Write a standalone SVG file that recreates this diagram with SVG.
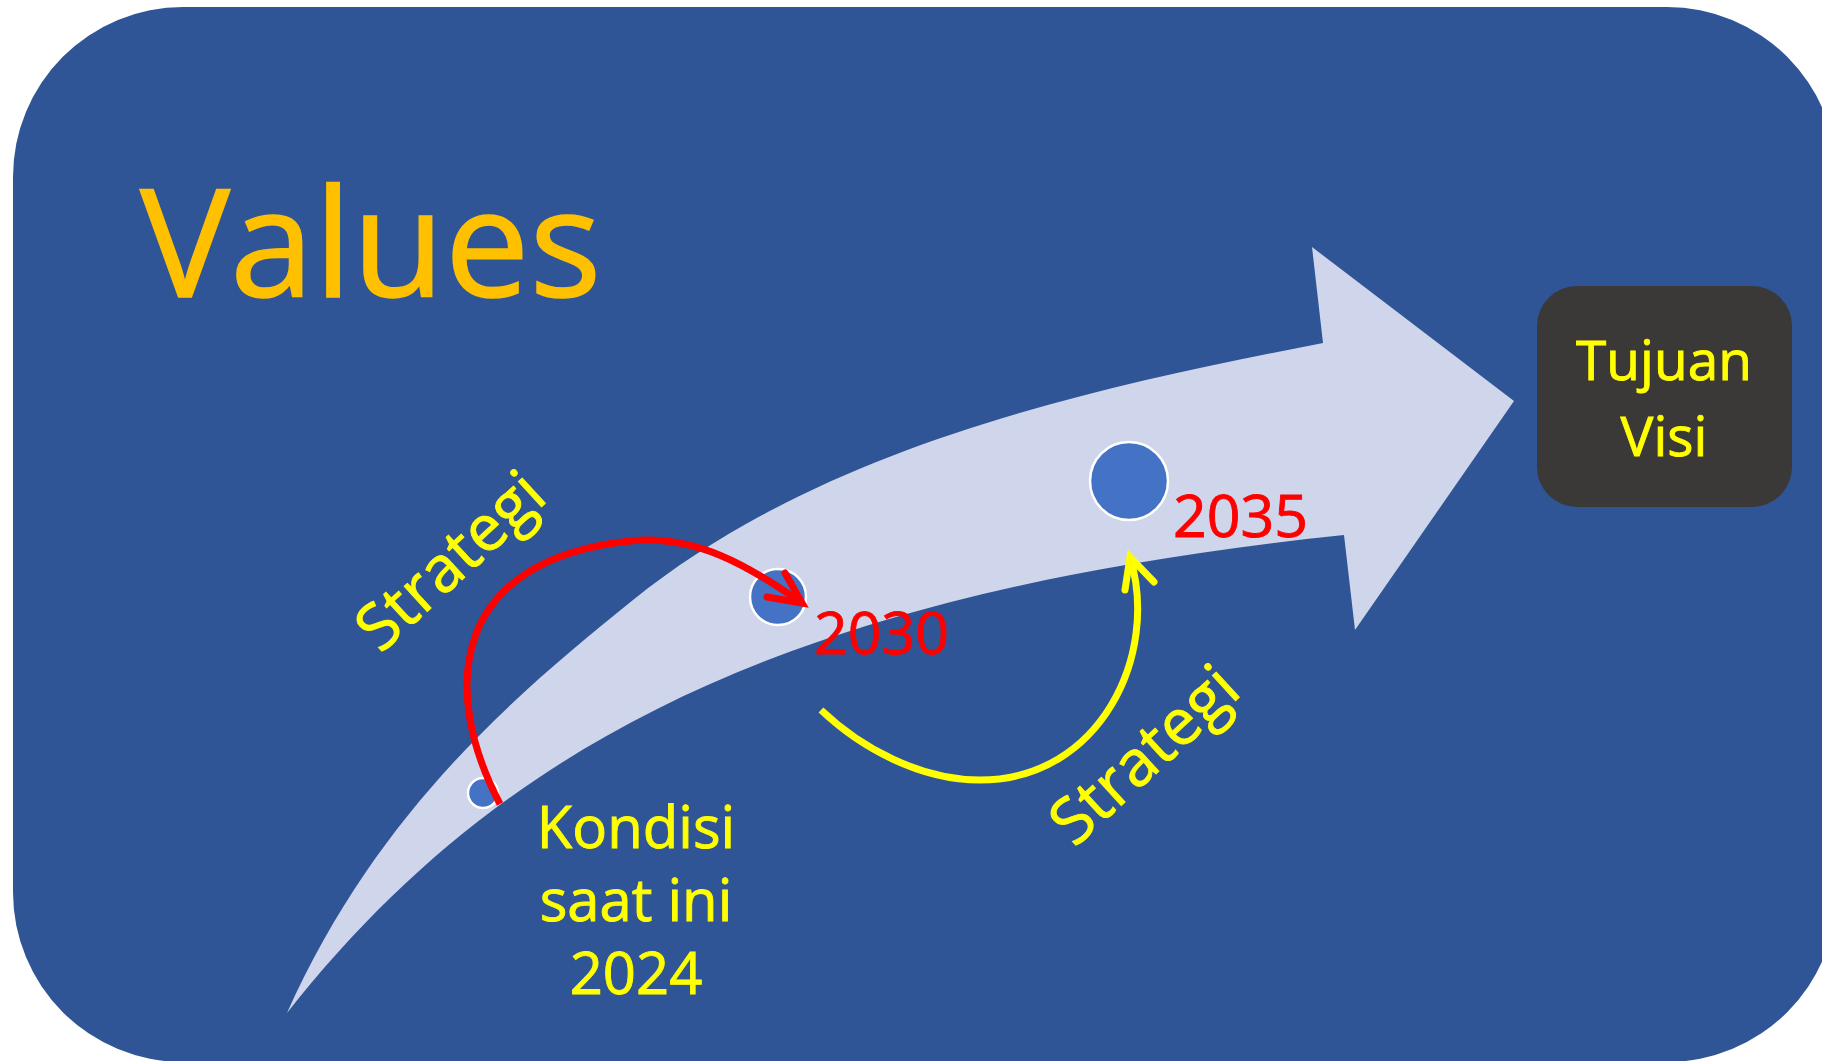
<svg xmlns="http://www.w3.org/2000/svg" width="1822" height="1061" viewBox="0 0 1822 1061">
  <style>
    .t { font-family: "Open Sans", "Noto Sans", sans-serif; }
    .yel { fill: #FFFF00; stroke: #FFFF00; stroke-width: 0.9; }
    .red { fill: #FF0000; stroke: #FF0000; stroke-width: 0.9; }
    .dot { fill: #4472C4; stroke: #FFFFFF; stroke-width: 2.5; }
    .conn { fill: none; stroke-width: 7; stroke-linecap: butt; stroke-linejoin: miter; }
    .head { fill: none; stroke-width: 7; stroke-linecap: round; stroke-linejoin: miter; }
  </style>
  <rect width="1822" height="1061" fill="#FFFFFF"/>
  <g id="background">
    <rect x="13" y="7" width="1824" height="1055" rx="170" ry="170" fill="#2F5597"/>
  </g>
  <g id="title">
    <text class="t" x="140" y="297" font-size="151" fill="#FFC000" stroke="#FFC000" stroke-width="1.5">Values</text>
  </g>
  <g id="big-arrow">
    <path d="M287,1013 C377,812 516,694 633,600 C824,447 1082,390 1323,343 L1312,247 L1514,401 L1355,630 L1344,535 C797,592 504,738 287,1013 Z" fill="#CFD5EA"/>
  </g>
  <g id="node-2024">
    <circle class="dot" cx="483" cy="793" r="15"/>
    <text class="t yel" x="636" y="848" font-size="58" text-anchor="middle">Kondisi</text>
    <text class="t yel" x="636" y="921" font-size="58" text-anchor="middle">saat ini</text>
    <text class="t yel" x="636" y="994" font-size="58" text-anchor="middle">2024</text>
  </g>
  <g id="node-2030">
    <circle class="dot" cx="778" cy="597" r="28"/>
    <text class="t red" x="814" y="654" font-size="59">2030</text>
  </g>
  <g id="node-2035">
    <circle class="dot" cx="1129" cy="481" r="39"/>
    <text class="t red" x="1173" y="537" font-size="59">2035</text>
  </g>
  <g id="node-tujuan">
    <rect x="1537" y="286" width="255" height="221" rx="40" ry="40" fill="#3B3838"/>
    <text class="t yel" x="1664" y="380" font-size="55" text-anchor="middle">Tujuan</text>
    <text class="t yel" x="1664" y="456" font-size="55" text-anchor="middle">Visi</text>
  </g>
  <g id="connectors">
    <g id="strategi-1">
      <path class="conn" stroke="#FF0000" d="M500,804 C440,690 450,560 630,541 C695,534 749,566 802,603"/>
      <path class="head" stroke="#FF0000" d="M767,597 L802,603 L785,573"/>
      <text class="t yel" font-size="64" text-anchor="middle" transform="translate(465,577) rotate(-42.5)">Strategi</text>
    </g>
    <g id="strategi-2">
      <path class="conn" stroke="#FFFF00" d="M821,710 C861,748 920,780 980,780 C1100,780 1160,655 1130,557"/>
      <path class="head" stroke="#FFFF00" d="M1125,590 L1130,557 L1154,582"/>
      <text class="t yel" font-size="64" text-anchor="middle" transform="translate(1159,771) rotate(-42.5)">Strategi</text>
    </g>
  </g>
</svg>
